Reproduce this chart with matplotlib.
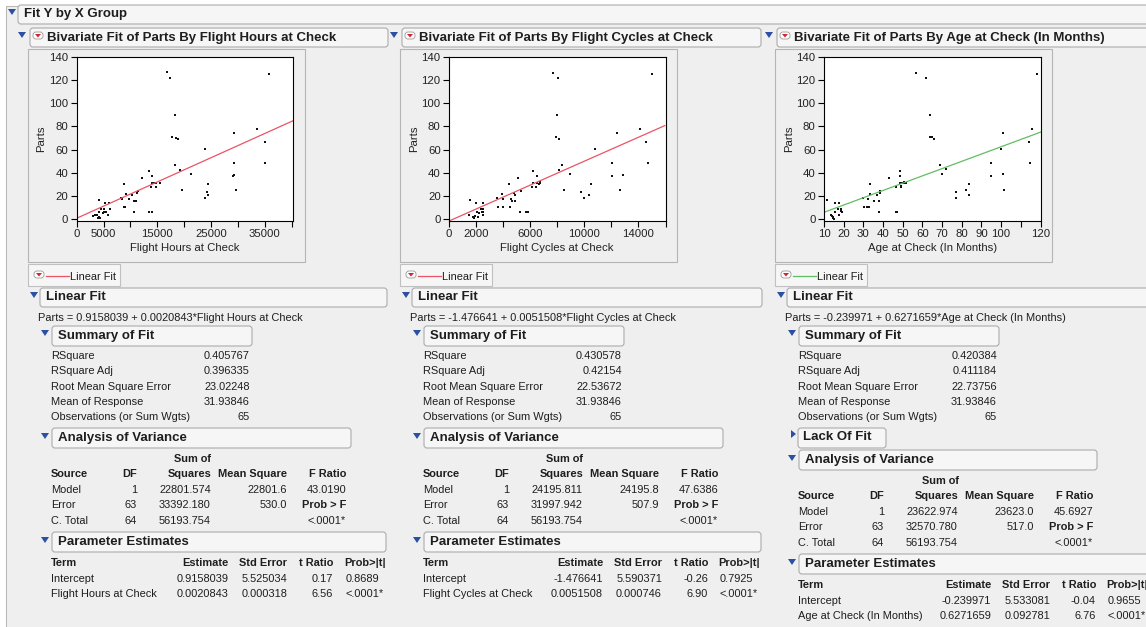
import matplotlib
matplotlib.use("Agg")
import numpy as np
import matplotlib.pyplot as plt
from matplotlib.patches import FancyBboxPatch, Polygon, Rectangle

W, H = 1146, 627
BG = "#efefef"
BOX_FILL = "#f6f6f6"
BOX_EDGE = "#ababab"
TEXT = "#1e1e1e"
BLUE = "#2b4fa3"
RED = "#ea5464"
GREEN = "#62bd62"

plt.rcParams["font.family"] = ["Liberation Sans", "DejaVu Sans"]

# ---- scatter data ----
hours_x = [16720, 17400, 35720, 18260, 17770, 18570, 18940, 29250, 33630, 34980,
           23880, 29370, 35100, 18390, 19250, 13390, 14070, 12220, 21290, 29190,
           29130, 8880, 14070, 14440, 14750, 15420, 13880, 14690, 24430, 19620,
           29620, 24250, 24370, 23940, 11350, 11290, 10370, 9260, 8210, 8450,
           9750, 10610, 10980, 8820, 9070, 10740, 13510, 14000, 4070, 5240,
           5920, 4500, 5060, 6230, 4070, 4870, 5060, 5490, 5860, 3390,
           3760, 4070, 3880, 4320, 3080]
hours_parts = [126.4, 121.5, 124.9, 90, 70.5, 70, 68.8, 74.5, 77.4, 66.5,
               60.5, 48.7, 48.7, 46.4, 42.4, 41.5, 37.5, 35.8, 38.7, 38.1,
               37, 30, 31, 31, 31, 31.5, 27.5, 28, 30, 25.2,
               25.2, 23.8, 20.6, 18.6, 24.4, 22.9, 20.6, 21.5, 18.6, 17.8,
               17.8, 16, 16, 10.9, 10.9, 6, 6, 6.6, 16.6, 14.3,
               14.3, 9.2, 9.2, 9.2, 6, 5.7, 6, 6.6, 3.7, 3.4,
               3.7, 2.3, 1.4, 0.9, 3.1]

cycles_x = [7680, 8070, 14990, 8000, 7880, 8150, 12390, 14110, 14530, 10800,
            12050, 14720, 8340, 8120, 6210, 6530, 5130, 8930, 12050, 12860,
            4420, 6210, 6500, 6700, 6110, 6450, 10480, 8490, 12660, 9740,
            10330, 9940, 5350, 4790, 3950, 4880, 3560, 4000, 4610, 4690,
            4910, 3630, 4000, 4490, 5230, 5670, 5840, 1570, 2010, 2480,
            2400, 2530, 2090, 2230, 2450, 2530, 2530, 1500, 2180, 1790,
            1890, 1840, 6650, 6750]
cycles_parts = [126, 121.5, 125, 90, 70.5, 68.8, 74.5, 77.4, 66.5, 60.5,
                48.7, 48.7, 46.4, 42.4, 41.5, 37.5, 35.8, 38.7, 37, 38.1,
                30, 31, 31, 31.5, 27.5, 28, 30, 25.2, 25.2, 23.8,
                20.6, 18.6, 24.4, 22.9, 21.5, 20.6, 18.6, 17.8, 17.8, 16,
                16, 10.9, 10.9, 10.9, 6, 6, 6.6, 16.6, 14.3, 14.3,
                9.2, 9.2, 6, 5.7, 6, 6.6, 3.7, 3.7, 2.3, 2.3,
                3.1, 0.9, 30, 32]

age_x = [56.9, 61.6, 118.1, 63.8, 63.8, 64.8, 65.7, 101.2, 115.9, 114.1,
         99.8, 94.7, 114.9, 68.9, 71.8, 48.7, 48.7, 42.8, 69.8, 94.7,
         101.2, 33.6, 48.7, 49.6, 50.4, 51.9, 46.8, 48.9, 83.7, 82.0,
         76.9, 76.9, 83.7, 101.3, 38.5, 38.7, 33.4, 36.7, 30.0, 32.6,
         35.3, 37.7, 30.4, 31.7, 32.9, 37.7, 46.8, 47.2, 11.5, 15.4,
         17.6, 17.3, 18.7, 15.8, 19.0, 18.8, 17.5, 13.6, 14.1, 14.4,
         14.8, 15.0, 49.0, 50.5]
age_parts = [126, 121.5, 125, 90, 70.5, 70.5, 68.8, 74.5, 77.4, 66.5,
             60.5, 48.7, 48.7, 46.4, 43, 41.5, 37.5, 35.8, 38.7, 37,
             38.7, 30, 31, 31.5, 31, 31.5, 27.5, 28, 30, 25.2,
             23.8, 18.6, 20.6, 25.2, 24.4, 22.9, 21.5, 20.6, 18.6, 17.8,
             16, 16, 10.9, 10.9, 10.9, 6, 6.6, 6, 16.6, 14.3,
             14.3, 9.2, 9.2, 6, 6, 7.1, 3.7, 3.4, 3.1, 2.3,
             1.4, 0.3, 29, 32]

# ---- axis ticks ----
hours_ticks = [0, 5000, 10000, 15000, 20000, 25000, 30000, 35000, 40000]
hours_ticklabels = ["0", "5000", "", "15000", "", "25000", "", "35000", ""]
cycles_ticks = [0, 2000, 4000, 6000, 8000, 10000, 12000, 14000, 16000]
cycles_ticklabels = ["0", "2000", "", "6000", "", "10000", "", "14000", ""]
age_ticks = [10, 20, 30, 40, 50, 60, 70, 80, 90, 100, 110, 120]
age_ticklabels = ["10", "20", "30", "40", "50", "60", "70", "80", "90", "100", "", "120"]
parts_ticks = [0, 20, 40, 60, 80, 100, 120, 140]

# ---- fitted coefficients (intercept, slope) ----
hours_fit = [0.9158039, 0.0020843]
cycles_fit = [-1.476641, 0.0051508]
age_fit = [-0.239971, 0.6271659]

# ---- report text ----
x_names = ["Flight Hours at Check", "Flight Cycles at Check", "Age at Check (In Months)"]
equations = ["Parts = 0.9158039 + 0.0020843*Flight Hours at Check",
             "Parts = -1.476641 + 0.0051508*Flight Cycles at Check",
             "Parts = -0.239971 + 0.6271659*Age at Check (In Months)"]
summary_labels = ["RSquare", "RSquare Adj", "Root Mean Square Error",
                  "Mean of Response", "Observations (or Sum Wgts)"]
hours_summary = ["0.405767", "0.396335", "23.02248", "31.93846", "65"]
cycles_summary = ["0.430578", "0.42154", "22.53672", "31.93846", "65"]
age_summary = ["0.420384", "0.411184", "22.73756", "31.93846", "65"]

anova_sources = ["Model", "Error", "C. Total"]
anova_df = ["1", "63", "64"]
hours_ss = ["22801.574", "33392.180", "56193.754"]
cycles_ss = ["24195.811", "31997.942", "56193.754"]
age_ss = ["23622.974", "32570.780", "56193.754"]
hours_ms = ["22801.6", "530.0", ""]
cycles_ms = ["24195.8", "507.9", ""]
age_ms = ["23623.0", "517.0", ""]
hours_f = "43.0190"
cycles_f = "47.6386"
age_f = "45.6927"

hours_params = [["0.9158039", "5.525034", "0.17", "0.8689"],
                ["0.0020843", "0.000318", "6.56", "<.0001*"]]
cycles_params = [["-1.476641", "5.590371", "-0.26", "0.7925"],
                 ["0.0051508", "0.000746", "6.90", "<.0001*"]]
age_params = [["-0.239971", "5.533081", "-0.04", "0.9655"],
              ["0.6271659", "0.092781", "6.76", "<.0001*"]]

BODY = 7.9
HEAD = 9.5


def tri_down(bg, x, y, color=BLUE):
    bg.add_patch(Polygon([[x - 4, y - 3], [x + 4, y - 3], [x, y + 3]],
                         closed=True, color=color, lw=0))


def tri_right(bg, x, y, color=BLUE):
    bg.add_patch(Polygon([[x - 2, y - 4], [x - 2, y + 4], [x + 3, y]],
                         closed=True, color=color, lw=0))


def menu_icon(bg, x, y):
    bg.add_patch(FancyBboxPatch((x - 5, y - 4), 10, 7,
                                boxstyle="round,pad=0,rounding_size=3",
                                fc="white", ec="#9a9a9a", lw=0.6))
    bg.add_patch(Polygon([[x - 3, y - 2], [x + 3, y - 2], [x, y + 1.5]],
                         closed=True, color="#d8222e", lw=0))


def box(bg, x0, x1, y0, y1, fc=BOX_FILL):
    bg.add_patch(FancyBboxPatch((x0, y0), x1 - x0, y1 - y0,
                                boxstyle="round,pad=0,rounding_size=3",
                                fc=fc, ec=BOX_EDGE, lw=0.8))


def txt(bg, x, y, s, ha="left", bold=False, size=BODY):
    bg.text(x, y, s, ha=ha, va="center", fontsize=size, color=TEXT,
            fontweight="bold" if bold else "normal")


def main():
    fig = plt.figure(figsize=(W / 100, H / 100), dpi=100, facecolor="white")
    bg = fig.add_axes([0, 0, 1, 1])
    bg.set_xlim(0, W)
    bg.set_ylim(H, 0)
    bg.set_axis_off()

    bg.add_patch(Rectangle((6, 6), W, H, fc=BG, ec="#b9b9b9", lw=0.8))

    # top-level outline
    tri_down(bg, 12, 12)
    box(bg, 18, W + 10, 5, 24)
    txt(bg, 24, 14.5, "Fit Y by X Group", bold=True, size=HEAD)

    offs = [0, 372, 747]
    ax_left = [76.7, 449, 824]
    head_right = [388, 761, W + 10]
    fit_right = [387, 762, W + 10]
    sum_right = [252, 624, 999]
    anova_right = [351, 723, 1097]
    par_right = [386, 761, W + 10]
    est_col = [228.7, 231, 244]
    se_col = [287, 290, 303]
    t_col = [333, 336, 349]
    p_col = [346, 348, 361]

    datasets = [(hours_x, hours_parts, hours_ticks, hours_ticklabels, (0, 40300), hours_fit, RED),
                (cycles_x, cycles_parts, cycles_ticks, cycles_ticklabels, (0, 15950), cycles_fit, RED),
                (age_x, age_parts, age_ticks, age_ticklabels, (10, 120), age_fit, GREEN)]
    summaries = [hours_summary, cycles_summary, age_summary]
    ss = [hours_ss, cycles_ss, age_ss]
    ms = [hours_ms, cycles_ms, age_ms]
    fr = [hours_f, cycles_f, age_f]
    params = [hours_params, cycles_params, age_params]

    for i in range(3):
        o = offs[i]
        # bivariate header
        tri_down(bg, 22 + o, 35)
        box(bg, 30 + o, head_right[i], 28, 47)
        menu_icon(bg, 38 + o, 36)
        txt(bg, 47 + o, 37.5,
            "Bivariate Fit of Parts By " + x_names[i], bold=True, size=HEAD)

        # plot frame
        bg.add_patch(Rectangle((28 + o, 49), 277, 213, fc=BG, ec="#b5b5b5", lw=0.8))

        # scatter axes
        xs, ys, ticks, labels, xlim, fit, col = datasets[i]
        x0 = ax_left[i]
        ax = fig.add_axes([x0 / W, 1 - 220.7 / H, 216.5 / W, 164 / H])
        ax.set_facecolor("white")
        ax.plot(xs, ys, "s", ms=2.0, mew=0, color="#111111")
        lx = np.array(xlim, dtype=float)
        ax.plot(lx, fit[0] + fit[1] * lx, color=col, lw=0.9)
        ax.set_xlim(*xlim)
        ax.set_ylim(-1.2, 140)
        ax.set_xticks(ticks)
        ax.set_xticklabels(labels)
        ax.set_yticks(parts_ticks)
        ax.tick_params(length=4, width=0.8, labelsize=8.2, pad=2, labelcolor="#222222")
        for sp in ax.spines.values():
            sp.set_linewidth(0.8)
        ax.set_xlabel(x_names[i], fontsize=8.2, labelpad=3, color="#222222")
        ax.set_ylabel("Parts", fontsize=8.2, labelpad=2, color="#222222")

        # legend box
        bg.add_patch(Rectangle((28 + o, 264), 92, 22, fc=BOX_FILL, ec="#c0c0c0", lw=0.8))
        menu_icon(bg, 39 + o, 275)
        bg.plot([46 + o, 69 + o], [276, 276], color=col, lw=0.9)
        txt(bg, 70 + o, 276.5, "Linear Fit")

        # linear fit header
        tri_down(bg, 34 + o, 295)
        box(bg, 40 + o, fit_right[i], 288, 307)
        txt(bg, 46 + o, 297.5, "Linear Fit", bold=True, size=HEAD)
        txt(bg, 38 + o, 318, equations[i])

        # summary of fit
        tri_down(bg, 45 + o, 333)
        box(bg, 52 + o, sum_right[i], 326, 346)
        txt(bg, 58 + o, 336, "Summary of Fit", bold=True, size=HEAD)
        for k, (lab, val) in enumerate(zip(summary_labels, summaries[i])):
            y = 356 + k * 15.3
            txt(bg, 51 + o, y, lab)
            txt(bg, 250 + o, y, val, ha="right")

        dy = 0
        if i == 2:
            tri_right(bg, 793, 434)
            box(bg, 798, 886, 428, 448)
            txt(bg, 803, 437.5, "Lack Of Fit", bold=True, size=HEAD)
            dy = 22

        # analysis of variance
        tri_down(bg, 45 + o, 436 + dy)
        box(bg, 52 + o, anova_right[i], 428 + dy, 448 + dy)
        txt(bg, 58 + o, 438 + dy, "Analysis of Variance", bold=True, size=HEAD)
        txt(bg, 193 + o, 459 + dy, "Sum of", ha="center", bold=True)
        hy = 474 + dy
        txt(bg, 51 + o, hy, "Source", bold=True)
        txt(bg, 137 + o, hy, "DF", ha="right", bold=True)
        txt(bg, 211 + o, hy, "Squares", ha="right", bold=True)
        txt(bg, 287 + o, hy, "Mean Square", ha="right", bold=True)
        txt(bg, 346 + o, hy, "F Ratio", ha="right", bold=True)
        for k in range(3):
            y = 490 + dy + k * 15.3
            txt(bg, 51 + o, y, anova_sources[k])
            txt(bg, 137 + o, y, anova_df[k], ha="right")
            txt(bg, 211 + o, y, ss[i][k], ha="right")
            txt(bg, 287 + o, y, ms[i][k], ha="right")
        txt(bg, 346 + o, 490 + dy, fr[i], ha="right")
        txt(bg, 346 + o, 505.5 + dy, "Prob > F", ha="right", bold=True)
        txt(bg, 346 + o, 521 + dy, "<.0001*", ha="right")

        # parameter estimates
        tri_down(bg, 45 + o, 540 + dy)
        box(bg, 52 + o, par_right[i], 532 + dy, 552 + dy)
        txt(bg, 58 + o, 542 + dy, "Parameter Estimates", bold=True, size=HEAD)
        ty = 563 + dy
        txt(bg, 51 + o, ty, "Term", bold=True)
        txt(bg, est_col[i] + o, ty, "Estimate", ha="right", bold=True)
        txt(bg, se_col[i] + o, ty, "Std Error", ha="right", bold=True)
        txt(bg, t_col[i] + o, ty, "t Ratio", ha="right", bold=True)
        txt(bg, p_col[i] + o - 2, ty, "Prob>|t|", bold=True)
        for k, term in enumerate(["Intercept", x_names[i]]):
            y = 578.5 + dy + k * 15.3
            row = params[i][k]
            txt(bg, 51 + o, y, term)
            txt(bg, est_col[i] + o, y, row[0], ha="right")
            txt(bg, se_col[i] + o, y, row[1], ha="right")
            txt(bg, t_col[i] + o, y, row[2], ha="right")
            txt(bg, p_col[i] + o, y, row[3])

    fig.savefig("out.png", dpi=100, facecolor="white")
    plt.close(fig)


if __name__ == "__main__":
    main()
